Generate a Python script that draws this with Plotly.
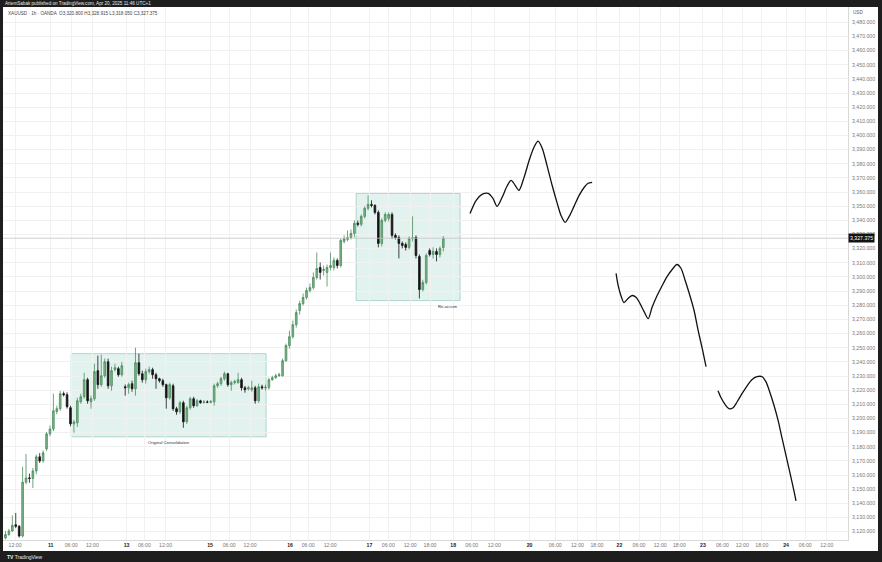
import plotly.graph_objects as go

# ---------------- data (hourly bars, XAUUSD 1h) ----------------
bar_index = list(range(129))

opens = [3115.5, 3118.0, 3120.5, 3124.9, 3123.8, 3116.9, 3155.0, 3158.0, 3157.6, 3162.9,
         3172.9, 3170.0, 3178.5, 3189.1, 3192.5, 3204.9, 3206.9, 3217.5, 3216.8, 3207.6,
         3196.2, 3196.9, 3211.8, 3215.3, 3227.4, 3211.8, 3213.9, 3233.8, 3223.9, 3230.2,
         3240.1, 3223.1, 3234.5, 3235.2, 3230.9, 3222.4, 3221.7, 3224.6, 3221.0, 3239.4,
         3231.6, 3227.4, 3233.1, 3234.5, 3230.9, 3228.1, 3226.7, 3223.9, 3214.6, 3223.1,
         3206.9, 3204.7, 3211.1, 3197.6, 3207.6, 3213.9, 3209.0, 3212.5, 3211.5, 3211.6,
         3211.5, 3211.8, 3223.1, 3224.6, 3228.1, 3231.6, 3223.9, 3225.3, 3225.3, 3227.4,
         3221.7, 3220.8, 3220.3, 3221.7, 3212.5, 3222.4, 3221.7, 3221.7, 3227.4, 3228.8,
         3230.2, 3230.2, 3240.8, 3251.5, 3257.8, 3266.3, 3276.3, 3281.2, 3285.5, 3290.4,
         3292.5, 3299.6, 3306.7, 3304.6, 3303.2, 3306.7, 3306.7, 3311.7, 3308.1, 3325.1,
         3326.5, 3327.9, 3330.8, 3337.9, 3337.2, 3342.8, 3348.5, 3351.3, 3350.6, 3345.6,
         3323.7, 3340.0, 3341.4, 3344.2, 3329.4, 3327.9, 3323.7, 3323.0, 3320.9, 3327.2,
         3327.9, 3314.5, 3291.1, 3296.1, 3318.7, 3315.9, 3318.0, 3315.9, 3320.8]

highs = [3120.5, 3122.0, 3131.5, 3133.2, 3124.6, 3165.8, 3174.9, 3161.0, 3165.0, 3174.5,
         3175.5, 3177.5, 3190.5, 3195.0, 3217.5, 3209.0, 3219.5, 3219.0, 3218.5, 3209.0,
         3199.0, 3214.6, 3217.5, 3232.3, 3228.8, 3216.1, 3238.7, 3244.4, 3245.1, 3242.3,
         3242.3, 3236.6, 3238.7, 3236.6, 3240.1, 3224.0, 3225.3, 3226.7, 3250.0, 3245.8,
         3233.8, 3235.2, 3236.6, 3235.9, 3232.3, 3228.8, 3228.1, 3224.6, 3225.3, 3224.6,
         3208.3, 3212.5, 3212.5, 3209.0, 3215.3, 3215.3, 3213.9, 3213.2, 3213.0, 3212.8,
         3213.0, 3224.6, 3226.0, 3229.5, 3233.1, 3232.3, 3226.7, 3227.4, 3232.3, 3228.8,
         3223.1, 3223.1, 3226.7, 3223.1, 3224.6, 3223.9, 3223.9, 3228.8, 3230.2, 3231.6,
         3232.3, 3242.3, 3252.9, 3262.1, 3269.2, 3277.0, 3283.3, 3288.3, 3292.5, 3295.4,
         3303.2, 3317.3, 3310.2, 3308.1, 3308.8, 3317.3, 3313.8, 3313.1, 3327.2, 3329.4,
         3332.9, 3333.6, 3340.0, 3340.0, 3344.2, 3349.9, 3357.7, 3354.2, 3351.3, 3347.1,
         3341.4, 3345.6, 3345.6, 3345.6, 3330.8, 3329.4, 3325.1, 3324.4, 3328.7, 3342.8,
         3329.4, 3315.9, 3298.0, 3316.6, 3320.2, 3320.9, 3320.2, 3321.6, 3328.915]

lows = [3114.6, 3117.0, 3119.8, 3122.5, 3115.8, 3115.9, 3153.5, 3154.5, 3150.9, 3160.5,
        3168.5, 3168.8, 3177.0, 3187.5, 3191.0, 3203.0, 3205.5, 3215.5, 3207.0, 3194.5,
        3189.9, 3194.0, 3210.4, 3213.9, 3210.4, 3206.9, 3212.5, 3221.0, 3222.4, 3228.8,
        3221.0, 3219.6, 3233.1, 3229.5, 3229.5, 3216.1, 3217.5, 3218.9, 3216.1, 3230.2,
        3225.3, 3224.6, 3231.6, 3228.1, 3221.0, 3225.3, 3222.4, 3206.9, 3213.2, 3205.4,
        3202.6, 3203.3, 3193.4, 3196.2, 3206.2, 3207.6, 3208.3, 3210.4, 3210.4, 3210.8,
        3210.6, 3209.0, 3221.7, 3223.1, 3226.7, 3222.4, 3219.6, 3224.0, 3224.6, 3219.6,
        3218.2, 3219.6, 3218.9, 3210.4, 3211.1, 3220.3, 3219.6, 3220.3, 3226.7, 3228.1,
        3229.5, 3229.5, 3240.1, 3249.3, 3256.4, 3264.2, 3273.4, 3279.8, 3284.0, 3289.0,
        3291.1, 3298.2, 3298.2, 3301.0, 3293.2, 3304.6, 3304.6, 3306.0, 3306.7, 3323.7,
        3325.1, 3326.5, 3327.9, 3335.7, 3335.7, 3341.4, 3347.1, 3349.2, 3344.2, 3320.9,
        3321.6, 3338.6, 3339.3, 3327.2, 3326.5, 3313.1, 3320.2, 3318.7, 3319.4, 3325.1,
        3313.1, 3284.8, 3289.7, 3294.7, 3314.5, 3313.1, 3311.0, 3313.8, 3318.05]

closes = [3118.0, 3120.5, 3124.4, 3123.8, 3116.9, 3155.0, 3158.0, 3157.6, 3162.9, 3172.9,
          3170.0, 3175.7, 3189.1, 3192.5, 3205.4, 3206.9, 3217.5, 3216.8, 3208.3, 3196.2,
          3197.5, 3212.5, 3215.3, 3227.4, 3212.5, 3213.9, 3233.1, 3223.9, 3230.2, 3240.1,
          3223.1, 3233.8, 3235.9, 3230.9, 3237.3, 3221.7, 3223.9, 3221.0, 3239.4, 3231.6,
          3227.4, 3233.1, 3234.5, 3230.9, 3228.1, 3226.7, 3223.9, 3214.6, 3223.9, 3206.9,
          3204.7, 3211.1, 3197.6, 3207.6, 3213.9, 3209.0, 3212.5, 3211.1, 3211.6, 3211.5,
          3211.9, 3223.1, 3224.6, 3228.1, 3231.6, 3223.9, 3225.3, 3226.0, 3227.4, 3221.7,
          3220.3, 3221.7, 3221.7, 3212.5, 3222.4, 3221.7, 3222.0, 3227.4, 3228.8, 3230.2,
          3230.9, 3240.8, 3251.5, 3257.8, 3266.3, 3274.8, 3281.2, 3285.5, 3290.4, 3292.5,
          3299.6, 3306.0, 3303.2, 3305.3, 3306.7, 3308.1, 3311.7, 3308.1, 3325.8, 3327.2,
          3327.9, 3330.8, 3337.9, 3337.2, 3342.8, 3348.5, 3351.3, 3350.6, 3345.6, 3323.7,
          3340.0, 3344.2, 3344.2, 3329.4, 3327.9, 3323.7, 3322.3, 3320.9, 3327.2, 3327.6,
          3315.2, 3291.1, 3296.1, 3315.2, 3315.9, 3318.0, 3315.9, 3320.2, 3327.375]

last_price = 3327.375

# price axis labels
price_ticks = [3120, 3130, 3140, 3150, 3160, 3170, 3180, 3190, 3200, 3210, 3220, 3230, 3240,
               3250, 3260, 3270, 3280, 3290, 3300, 3310, 3320, 3330, 3340, 3350, 3360, 3370,
               3380, 3390, 3400, 3410, 3420, 3430, 3440, 3450, 3460, 3470, 3480]

# hand-drawn projection paths (bar index, price)
path1_x = [135.8, 137.6, 139.3, 141.1, 142.5, 143.7, 145.2, 146.6, 147.8, 149.0, 150.1, 151.6, 153.1,
           154.5, 155.7, 156.9, 158.3, 159.8, 161.3, 162.4, 163.6, 164.8, 166.2, 167.7, 169.2, 170.3, 171.5]
path1_y = [3344.9, 3354.2, 3358.4, 3359.1, 3355.6, 3349.9, 3356.3, 3364.1, 3368.3, 3364.8, 3361.2, 3370.4, 3382.5,
           3391.7, 3396.0, 3391.0, 3378.9, 3364.8, 3352.0, 3343.5, 3338.6, 3342.8, 3349.9, 3357.7, 3363.4, 3366.2, 3366.9]
path2_x = [178.5, 179.1, 180.0, 180.8, 182.0, 183.2, 184.4, 185.5, 186.7, 187.9, 189.0, 190.5, 192.0,
           193.4, 194.9, 196.3, 197.5, 198.7, 199.9, 201.3, 202.5, 203.7, 204.8]
path2_y = [3302.5, 3294.0, 3286.2, 3281.9, 3284.8, 3286.9, 3285.5, 3281.2, 3275.5, 3270.6, 3278.4, 3286.9, 3294.0,
           3300.3, 3305.3, 3308.8, 3306.0, 3297.5, 3288.3, 3276.3, 3262.1, 3249.3, 3236.6]
path3_x = [208.3, 209.2, 210.4, 211.5, 212.7, 213.9, 215.3, 216.8, 218.2, 219.7, 221.2, 222.3, 223.5,
           224.7, 225.9, 227.0, 228.2, 229.4, 230.5, 231.1]
path3_y = [3219.6, 3214.6, 3209.7, 3206.9, 3207.6, 3211.8, 3217.5, 3223.1, 3227.4, 3229.5, 3229.5, 3226.0, 3218.2,
           3209.0, 3198.3, 3186.3, 3173.5, 3160.8, 3148.8, 3141.7]

# zones (bar index range, price range)
zone1_x = [19.2, 76.2]
zone1_y = [3187.0, 3245.8]
zone1_label = "Original Consolidation"
zone2_x = [102.5, 132.9]
zone2_y = [3283.3, 3359.1]
zone2_label = "Re-accum"

# time axis ticks
tick_idx = [2.8, 13.2, 19.2, 25.4, 35.4, 40.6, 46.8, 59.8, 65.4, 71.5, 83.2, 88.5, 94.9,
            106.4, 111.9, 118.3, 124.1, 130.9, 136.3, 142.9, 153.2, 160.7, 167.2, 172.9,
            179.5, 185.2, 191.4, 197.0, 203.9, 209.6, 215.4, 221.1, 228.2, 233.8, 240.1]
tick_lab = ["12:00", "11", "06:00", "12:00", "13", "06:00", "12:00", "15", "06:00", "12:00",
            "16", "06:00", "12:00", "17", "06:00", "12:00", "18:00", "18", "06:00", "12:00",
            "20", "06:00", "12:00", "18:00", "22", "06:00", "12:00", "18:00", "23", "06:00",
            "12:00", "18:00", "24", "06:00", "12:00"]

header = "ArtemSabak published on TradingView.com, Apr 20, 2025 11:46 UTC+1"
symbol_line = "XAUUSD · 1h · OANDA  O3,320.800 H3,328.915 L3,318.050 C3,327.375"

# ---------------- figure ----------------
FONT = "Liberation Sans, Arial, sans-serif"
DARK = "#1e1e1e"

fig = go.Figure()

fig.add_trace(go.Candlestick(
    x=bar_index, open=opens, high=highs, low=lows, close=closes,
    increasing=dict(line=dict(color="#4d8b5e", width=0.8), fillcolor="#79b689"),
    decreasing=dict(line=dict(color="#141414", width=0.8), fillcolor="#141414"),
    whiskerwidth=0, showlegend=False, hoverinfo="skip"))

for px_, py_ in [(path1_x, path1_y), (path2_x, path2_y), (path3_x, path3_y)]:
    fig.add_trace(go.Scatter(x=px_, y=py_, mode="lines",
                             line=dict(color="#111111", width=1.3, shape="spline", smoothing=0.8),
                             showlegend=False, hoverinfo="skip"))

ticktext = []
for t in tick_lab:
    if ":" in t:
        ticktext.append(t)
    else:
        ticktext.append("<b><span style='color:#222'>" + t + "</span></b>")

shapes = []
for zx, zy in [(zone1_x, zone1_y), (zone2_x, zone2_y)]:
    shapes.append(dict(type="rect", xref="x", yref="y", x0=zx[0], x1=zx[1], y0=zy[0], y1=zy[1],
                       fillcolor="rgba(150,212,196,0.28)", line=dict(color="rgba(120,185,168,0.7)", width=0.8),
                       layer="below"))
# last price line
shapes.append(dict(type="line", xref="paper", yref="y", x0=0, x1=1, y0=last_price, y1=last_price,
                   line=dict(color="#c4c4c4", width=0.8)))
# frame: dark bars
shapes.append(dict(type="rect", xref="paper", yref="paper", x0=-0.01, x1=1.06, y0=1.0, y1=1.03,
                   fillcolor=DARK, line=dict(width=0)))
shapes.append(dict(type="rect", xref="paper", yref="paper", x0=-0.01, x1=1.06, y0=-0.0206, y1=-0.06,
                   fillcolor=DARK, line=dict(width=0)))
shapes.append(dict(type="rect", xref="paper", yref="paper", x0=-0.01, x1=0.0, y0=-0.06, y1=1.03,
                   fillcolor=DARK, line=dict(width=0)))
shapes.append(dict(type="rect", xref="paper", yref="paper", x0=1.0355, x1=1.06, y0=-0.06, y1=1.03,
                   fillcolor=DARK, line=dict(width=0)))

annotations = [
    dict(text=header, xref="paper", yref="paper", x=0.0, y=1.0066, xanchor="left", yanchor="middle",
         showarrow=False, font=dict(family=FONT, size=4.6, color="#e8e8e8")),
    dict(text=symbol_line, xref="paper", yref="paper", x=0.004, y=0.9869, xanchor="left", yanchor="middle",
         showarrow=False, font=dict(family=FONT, size=4.6, color="#444")),
    dict(text="<b>TV</b> TradingView", xref="paper", yref="paper", x=0.002, y=-0.0310, xanchor="left",
         yanchor="middle", showarrow=False, font=dict(family=FONT, size=5, color="#e8e8e8")),
    dict(text="USD", xref="paper", yref="y", x=1.0, y=3486.6, xanchor="left", yanchor="middle", xshift=3,
         showarrow=False, font=dict(family=FONT, size=4.6, color="#555")),
    dict(text="3,327.375", xref="paper", yref="y", x=1.0, y=last_price, xanchor="left", yanchor="middle",
         xshift=0, showarrow=False, bgcolor="#131313", borderpad=1,
         font=dict(family=FONT, size=5.2, color="#ffffff")),
    dict(text=zone1_label, xref="x", yref="y", x=(zone1_x[0] + zone1_x[1]) / 2, y=zone1_y[0],
         xanchor="center", yanchor="top", yshift=-1, showarrow=False,
         font=dict(family=FONT, size=4.2, color="#333")),
    dict(text=zone2_label, xref="x", yref="y", x=zone2_x[1], y=zone2_y[0],
         xanchor="right", yanchor="top", yshift=-1, showarrow=False,
         font=dict(family=FONT, size=4.2, color="#333")),
]

fig.update_layout(
    width=882, height=562,
    margin=dict(l=3, r=34, t=7, b=22, autoexpand=False),
    paper_bgcolor="#ffffff", plot_bgcolor="#ffffff",
    showlegend=False,
    shapes=shapes, annotations=annotations,
    font=dict(family=FONT),
    xaxis=dict(range=[-0.73, 246.3], tickmode="array", tickvals=tick_idx, ticktext=ticktext,
               showgrid=True, gridcolor="#f1f1f1", gridwidth=1, zeroline=False,
               showline=True, linecolor="#d9d9d9", linewidth=1, automargin=False,
               ticks="", tickfont=dict(family=FONT, size=5.2, color="#777"),
               rangeslider=dict(visible=False), fixedrange=True),
    yaxis=dict(range=[3114.1, 3490.8], side="right", tickmode="array", tickvals=price_ticks,
               tickformat=",.3f",
               showgrid=True, gridcolor="#f1f1f1", gridwidth=1, zeroline=False,
               showline=True, linecolor="#d9d9d9", linewidth=1, automargin=False,
               ticks="", ticklabelstandoff=2, tickfont=dict(family=FONT, size=5.2, color="#777"),
               fixedrange=True),
)

fig.write_html("out.html", config={"displayModeBar": False},
               post_script="document.body.style.margin='0px';document.body.style.padding='0px';"
                           "document.body.style.overflow='hidden';")
